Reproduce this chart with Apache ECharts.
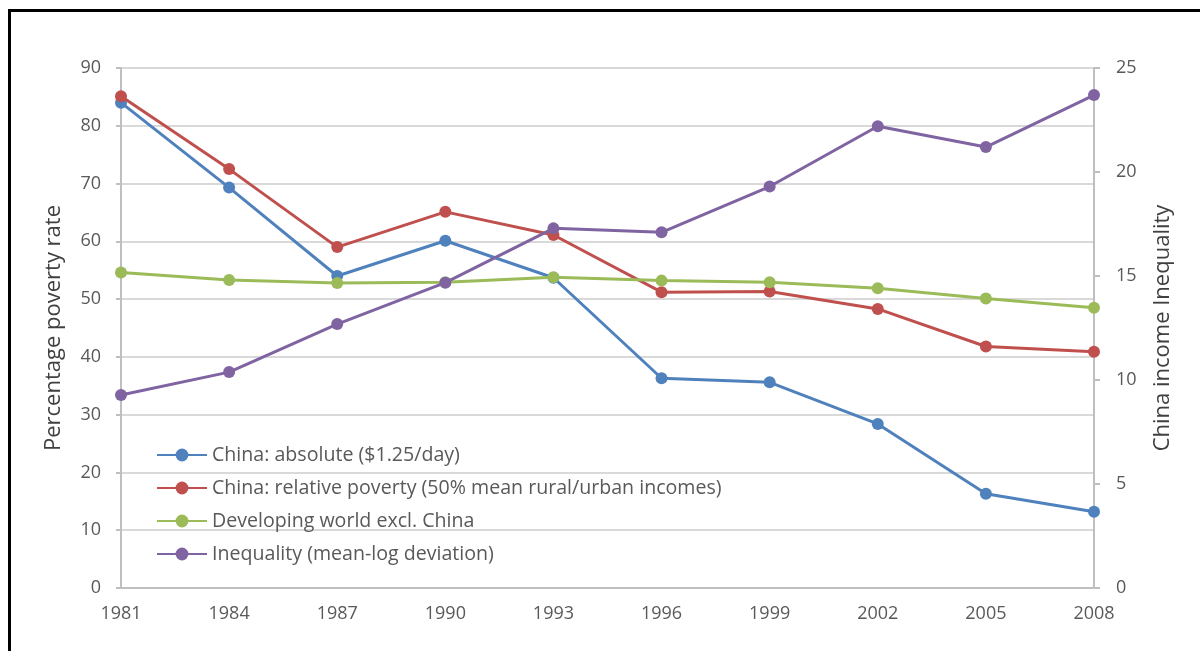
<!DOCTYPE html>
<html>
<head>
<meta charset="utf-8">
<script src="https://cdn.jsdelivr.net/npm/echarts@6/dist/echarts.min.js"></script>
<style>
html,body{margin:0;padding:0;background:#fff;}
#chart{width:1200px;height:651px;}
</style>
</head>
<body>
<div id="chart"></div>
<script>
const years = ['1981','1984','1987','1990','1993','1996','1999','2002','2005','2008'];
const chinaAbsolute = [84.0, 69.3, 54.0, 60.1, 53.7, 36.3, 35.6, 28.4, 16.3, 13.2];
const chinaRelative = [85.1, 72.5, 59.0, 65.1, 61.1, 51.2, 51.3, 48.3, 41.8, 40.9];
const developingWorld = [54.6, 53.3, 52.8, 52.9, 53.8, 53.2, 52.9, 51.9, 50.1, 48.5];
const inequality = [9.28, 10.38, 12.69, 14.68, 17.29, 17.1, 19.3, 22.2, 21.2, 23.7];
const seriesNames = [
  'China: absolute ($1.25/day)',
  'China: relative poverty (50% mean rural/urban incomes)',
  'Developing world excl. China',
  'Inequality (mean-log deviation)'
];
const colors = ['#4F81BD', '#C0504D', '#9BBB59', '#8064A2'];

const FONT = 'Open Sans';
const chart = echarts.init(document.getElementById('chart'), null, {renderer: 'canvas'});
function mk(name, data, idx, axis) {
  return {
    name: name, type: 'line', data: data, yAxisIndex: axis,
    symbol: 'circle', symbolSize: 12, showSymbol: true,
    lineStyle: {width: 3, color: colors[idx]},
    itemStyle: {color: colors[idx]},
    z: 2 + idx,
    emphasis: {disabled: true},
    animation: false
  };
}
chart.setOption({
  animation: false,
  color: colors,
  textStyle: {fontFamily: FONT},
  graphic: [{
    type: 'rect', shape: {x: 9.5, y: 10.5, width: 1300, height: 800},
    style: {fill: 'none', stroke: '#000', lineWidth: 3}, z: 100, silent: true
  }],
  grid: {left: 121, right: 106, top: 68, bottom: 63, containLabel: false},
  legend: {
    orient: 'vertical', left: 151, top: 440,
    itemWidth: 50, itemHeight: 16, itemGap: 13,
    textStyle: {fontFamily: FONT, fontSize: 19.6, color: '#595959'},
    data: seriesNames
  },
  xAxis: {
    type: 'category', data: years, boundaryGap: false,
    axisLine: {lineStyle: {color: '#bfbfbf', width: 2}},
    axisTick: {show: false},
    axisLabel: {color: '#595959', fontSize: 18, fontFamily: FONT, margin: 17},
    splitLine: {show: false}
  },
  yAxis: [{
    type: 'value', min: 0, max: 90, interval: 10, position: 'left',
    name: 'Percentage poverty rate', nameLocation: 'middle', nameGap: 56, nameRotate: 90,
    nameTextStyle: {color: '#404040', fontSize: 22, fontFamily: FONT},
    axisLine: {show: true, lineStyle: {color: '#bfbfbf', width: 2}},
    axisTick: {show: true, length: 5, lineStyle: {color: '#bfbfbf', width: 2}},
    axisLabel: {color: '#595959', fontSize: 18, fontFamily: FONT, margin: 20},
    splitLine: {show: true, lineStyle: {color: '#d9d9d9', width: 2}}
  }, {
    type: 'value', min: 0, max: 25, interval: 5, position: 'right',
    name: 'China income Inequality', nameLocation: 'middle', nameGap: 58, nameRotate: 90,
    nameTextStyle: {color: '#404040', fontSize: 22, fontFamily: FONT},
    axisLine: {show: true, lineStyle: {color: '#bfbfbf', width: 2}},
    axisTick: {show: true, length: 6, lineStyle: {color: '#bfbfbf', width: 2}},
    axisLabel: {color: '#595959', fontSize: 18, fontFamily: FONT, margin: 22},
    splitLine: {show: false}
  }],
  series: [
    mk(seriesNames[0], chinaAbsolute, 0, 0),
    mk(seriesNames[1], chinaRelative, 1, 0),
    mk(seriesNames[2], developingWorld, 2, 0),
    mk(seriesNames[3], inequality, 3, 1)
  ]
});
</script>
</body>
</html>
